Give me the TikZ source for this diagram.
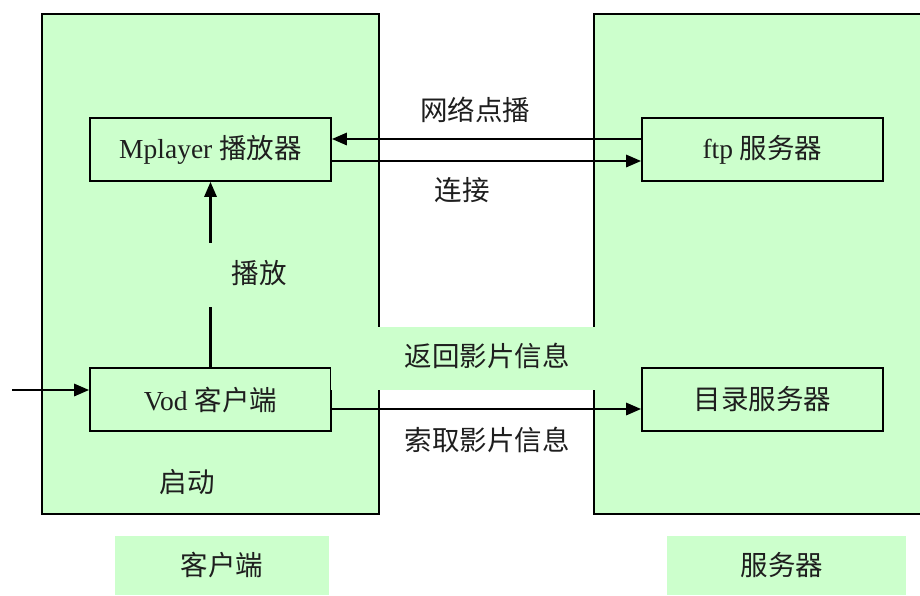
\documentclass[tikz,border=0pt]{standalone}
\usepackage{fontspec}
\setmainfont{Liberation Serif}
\newfontfamily\cjk{Noto Sans CJK SC}
\usetikzlibrary{arrows.meta}
\definecolor{boxgreen}{RGB}{204,255,204}
\definecolor{inkc}{RGB}{30,30,30}
\tikzset{
  bigframe/.style={line width=2pt, draw=black},
  unitbox/.style={draw=black, line width=1.6pt, fill=boxgreen, minimum width=241pt, minimum height=63pt, inner sep=0pt, font=\fontsize{27.5}{30}\selectfont, text=inkc},
  arr/.style={line width=2.8pt, -{Triangle[length=15pt,width=12pt]}},
  lbl/.style={font=\cjk\fontsize{27.5}{30}\selectfont, text=inkc, inner sep=0pt},
  labelfill/.style={fill=boxgreen, draw=none, inner sep=0pt}
}
\begin{document}
\begin{tikzpicture}[x=1pt,y=-1pt]
\useasboundingbox (0,0) rectangle (920,595);
\fill[white] (0,0) rectangle (920,595);
% big frames
\fill[boxgreen] (42,14) rectangle (379,514);
\draw[bigframe] (42,14) rectangle (379,514);
\fill[boxgreen] (594,14) rectangle (920,514);
\draw[bigframe] (921,14) -- (594,14) -- (594,514) -- (921,514);
% unit boxes
\node[unitbox] (mp) at (210.5,149.5) {Mplayer {\cjk 播放器}};
\node[unitbox] (ftp) at (762.5,149.5) {ftp {\cjk 服务器}};
\node[unitbox] (vod) at (210.5,399.5) {Vod {\cjk 客户端}};
\node[unitbox] (dir) at (762.5,399.5) {\cjk 目录服务器};
% connectors
\draw[arr] ([yshift=10.5pt]ftp.west) -- ([yshift=10.5pt]mp.east);
\draw[arr] ([yshift=-11.5pt]mp.east) -- ([yshift=-11.5pt]ftp.west);
\draw[arr] (vod.north) -- (mp.south);
\draw[arr] ([yshift=-9.5pt]vod.east) -- ([yshift=-9.5pt]dir.west);
\coordinate (start) at (12,390);
\draw[arr] (start) -- (start -| vod.west);
% label with background covering the vertical arrow
\node[labelfill, minimum width=100pt, minimum height=64pt] (playbg) at (252,275) {};
\node[lbl] (play) at (259,273) {播放};
% return label band
\node[labelfill, minimum width=267pt, minimum height=63pt] (retbg) at (464.5,358.5) {};
\node[lbl] (ret) at (487,356) {返回影片信息};
% other labels
\node[lbl] (net) at (475,110) {网络点播};
\node[lbl] (conn) at (462,190) {连接};
\node[lbl] (req) at (487,440) {索取影片信息};
\node[lbl] (boot) at (187,482) {启动};
% bottom captions
\node[labelfill, minimum width=214pt, minimum height=59pt] (clbg) at (222,565.5) {};
\node[lbl] (cl) at (222,565) {客户端};
\node[labelfill, minimum width=239pt, minimum height=59pt] (svbg) at (786.5,565.5) {};
\node[lbl] (sv) at (782,565) {服务器};
\end{tikzpicture}
\end{document}
